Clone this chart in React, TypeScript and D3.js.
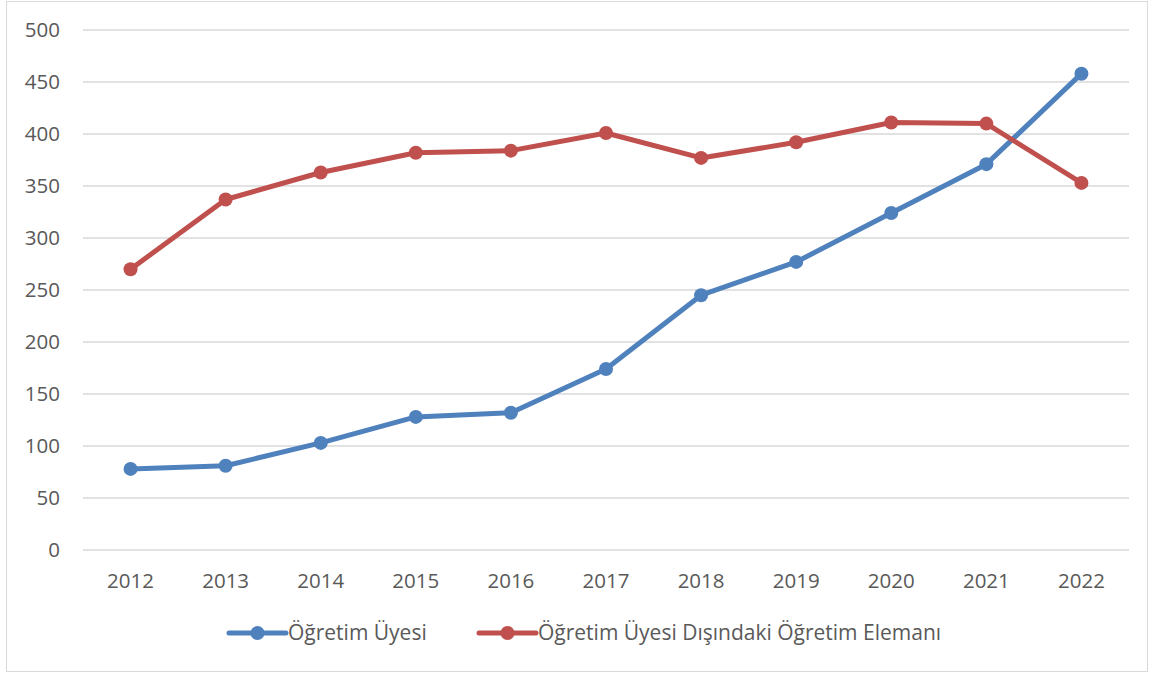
import { useEffect, useRef } from 'react'
import * as d3 from 'd3'

// Years on the x axis
const YEARS = ['2012', '2013', '2014', '2015', '2016', '2017', '2018', '2019', '2020', '2021', '2022']
// Öğretim Üyesi
const UYE = [78, 81, 103, 128, 132, 174, 245, 277, 324, 371, 458]
// Öğretim Üyesi Dışındaki Öğretim Elemanı
const DISI = [270, 337, 363, 382, 384, 401, 377, 392, 411, 410, 353]
const Y_TICKS = [0, 50, 100, 150, 200, 250, 300, 350, 400, 450, 500]

const SERIES = [
  { name: 'Öğretim Üyesi', values: UYE, color: '#4F81BD' },
  { name: 'Öğretim Üyesi Dışındaki Öğretim Elemanı', values: DISI, color: '#C0504D' },
]

const W = 1154
const H = 675
const FONT = '"Open Sans", "Noto Sans", sans-serif'

export default function App() {
  const svgRef = useRef<SVGSVGElement>(null)

  useEffect(() => {
    const svg = d3.select(svgRef.current)
    svg.selectAll('*').remove()

    const left = 83
    const right = 1129
    const top = 30
    const bottom = 550

    // outer chart border
    svg.append('rect')
      .attr('x', 6.5).attr('y', 1.5)
      .attr('width', 1141).attr('height', 670)
      .attr('fill', '#fff')
      .attr('stroke', '#d9d9d9')
      .attr('stroke-width', 1)

    const x = d3.scaleBand().domain(YEARS).range([left, right])
    const y = d3.scaleLinear().domain([0, 500]).range([bottom, top])
    const cx = (d: string) => (x(d) as number) + x.bandwidth() / 2

    // gridlines
    svg.append('g')
      .selectAll('line')
      .data(Y_TICKS)
      .join('line')
      .attr('x1', left).attr('x2', right)
      .attr('y1', d => y(d)).attr('y2', d => y(d))
      .attr('stroke', '#d9d9d9')
      .attr('stroke-width', 1.5)

    // y labels
    svg.append('g')
      .selectAll('text')
      .data(Y_TICKS)
      .join('text')
      .attr('x', 60)
      .attr('y', d => y(d))
      .attr('dy', '0.35em')
      .attr('text-anchor', 'end')
      .attr('font-family', FONT)
      .attr('font-size', 20.5)
      .attr('fill', '#595959')
      .text(d => d)

    // x labels
    svg.append('g')
      .selectAll('text')
      .data(YEARS)
      .join('text')
      .attr('x', d => cx(d))
      .attr('y', 588)
      .attr('text-anchor', 'middle')
      .attr('font-family', FONT)
      .attr('font-size', 20.5)
      .attr('fill', '#595959')
      .text(d => d)

    const line = d3.line<number>()
      .x((_, i) => cx(YEARS[i]))
      .y(d => y(d))

    SERIES.forEach(s => {
      const g = svg.append('g')
      g.append('path')
        .datum(s.values)
        .attr('fill', 'none')
        .attr('stroke', s.color)
        .attr('stroke-width', 5)
        .attr('stroke-linejoin', 'round')
        .attr('stroke-linecap', 'round')
        .attr('d', line)
      g.selectAll('circle')
        .data(s.values)
        .join('circle')
        .attr('cx', (_, i) => cx(YEARS[i]))
        .attr('cy', d => y(d))
        .attr('r', 7)
        .attr('fill', s.color)
    })

    // legend
    const legendX = [229, 479]
    SERIES.forEach((s, i) => {
      const g = svg.append('g').attr('transform', `translate(${legendX[i]},633)`)
      g.append('line')
        .attr('x1', 0).attr('x2', 57)
        .attr('stroke', s.color)
        .attr('stroke-width', 5)
        .attr('stroke-linecap', 'round')
      g.append('circle').attr('cx', 28.5).attr('r', 7).attr('fill', s.color)
      g.append('text')
        .attr('x', 59)
        .attr('dy', '0.35em')
        .attr('font-family', FONT)
        .attr('font-size', 21)
        .attr('fill', '#595959')
        .text(s.name)
    })
  }, [])

  return (
    <svg
      ref={svgRef}
      width={W}
      height={H}
      style={{ position: 'absolute', left: 0, top: 0, display: 'block' }}
    />
  )
}
